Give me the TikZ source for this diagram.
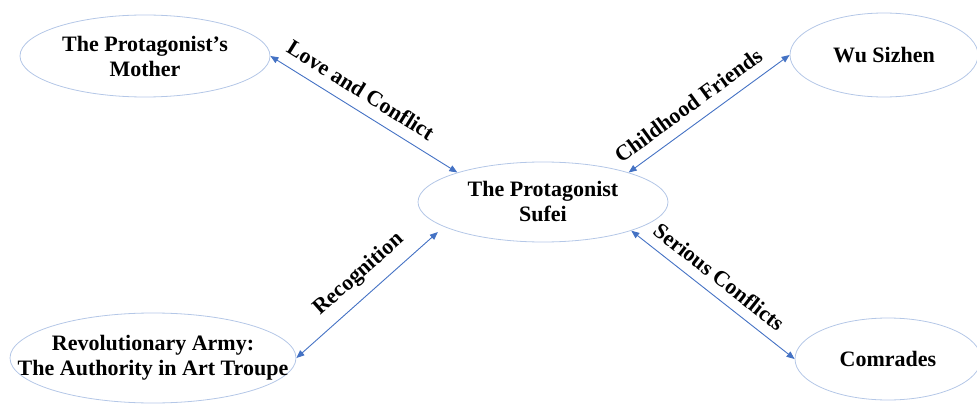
\documentclass[tikz,border=0pt]{standalone}
\usepackage{fontspec}
\setmainfont{Liberation Serif}
\usetikzlibrary{arrows.meta,shapes.geometric}
\definecolor{ringc}{RGB}{180,199,231}
\definecolor{linkc}{RGB}{68,114,196}
\begin{document}
\begin{tikzpicture}[x=1pt,y=1pt,
  bubble/.style={ellipse, draw=ringc, line width=0.8pt, inner sep=0pt},
  txt/.style={font=\bfseries\fontsize{22}{25}\selectfont, align=center, inner sep=0pt},
  link/.style={draw=linkc, line width=0.9pt, {Triangle[length=8pt,width=6.5pt]}-{Triangle[length=8pt,width=6.5pt]}},
  rel/.style={font=\bfseries\fontsize{22}{25}\selectfont, sloped, inner sep=0pt, text depth=0pt}]
\useasboundingbox (0,0) rectangle (977,405);
\clip (0,0) rectangle (977,405);
% ellipses
\node[bubble, minimum width=250pt, minimum height=82pt] (m) at (145,349) {};
\node[bubble, minimum width=188pt, minimum height=84pt] (w) at (884,350) {};
\node[bubble, minimum width=250pt, minimum height=80pt] (c) at (543,203) {};
\node[bubble, minimum width=286pt, minimum height=90pt] (r) at (153,47) {};
\node[bubble, minimum width=186pt, minimum height=82pt] (k) at (888,46) {};
% texts
\node[txt] (mt) at (m) {The Protagonist’s\\Mother};
\node[txt] (wt) at (w) {Wu Sizhen};
\node[txt] (ct) at (c) {The Protagonist\\Sufei};
\node[txt] (rt) at (r) {Revolutionary Army:\\The Authority in Art Troupe};
\node[txt] (kt) at (k) {Comrades};
% connectors
\draw[link] (m.east) -- (c.161) node[rel, pos=0.43, above=11pt] (l1) {Love and Conflict};
\draw[link] (c.19) -- (w.west) node[rel, pos=0.44, above=11pt] (l2) {Childhood Friends};
\draw[link, shorten >=8pt] (r.east) -- (c.194) node[rel, pos=0.52, above=15pt] (l3) {Recognition};
\draw[link] (c.342.5) -- (k.west) node[rel, pos=0.47, above=10pt] (l4) {Serious Conflicts};
\end{tikzpicture}
\end{document}
